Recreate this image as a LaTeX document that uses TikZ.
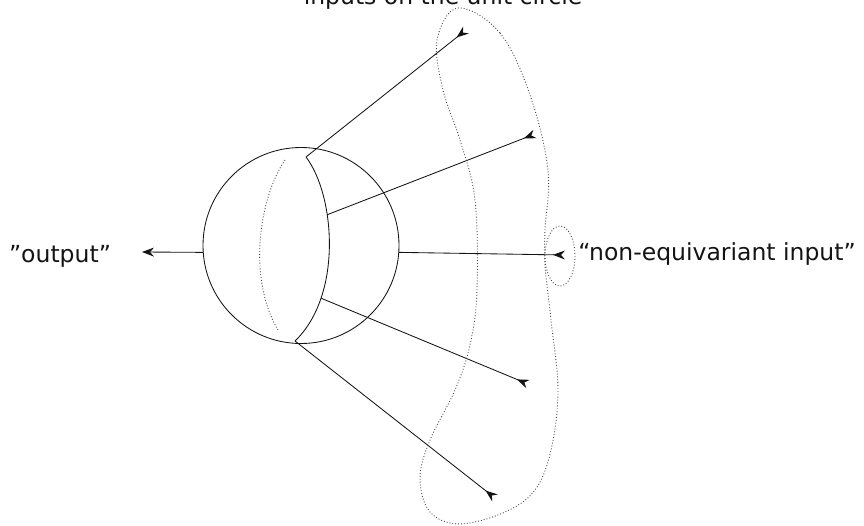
\documentclass[tikz,border=0pt]{standalone}
\usepackage{fontspec}
\setmainfont{DejaVu Sans}
\usetikzlibrary{arrows.meta}
\definecolor{inktext}{RGB}{20,20,20}
\definecolor{dotgray}{RGB}{70,70,70}

\begin{document}
\begin{tikzpicture}[x=1pt,y=-1pt,
  lbl/.style={font=\fontsize{23.5}{28}\selectfont,text=inktext,inner sep=0pt,anchor=base},
  wire/.style={line width=0.85pt,color=inktext},
  outarr/.style={wire,-{Stealth[length=12pt,width=9pt,inset=4pt]}},
  inarr/.style={wire,-{Stealth[length=12pt,width=9pt,inset=4pt,reversed]}},
  dots/.style={dotted,line width=0.9pt,color=dotgray}]
\useasboundingbox (0,0) rectangle (864,525);
\node[circle,draw=inktext,line width=0.85pt,minimum size=196pt,inner sep=0pt]
  (disc) at (301,245.5) {};
\node[lbl] (title) at (443,4) {inputs on the unit circle};
\node[lbl] (outlbl) at (60,262) {"output''};
\node[lbl] (nonlbl) at (717,260) {``non-equivariant input''};
% ends of the arrows
\coordinate (outtip) at (142,252);
\coordinate (in1) at (466,30);
\coordinate (in2) at (535,134);
\coordinate (in3) at (565,255);
\coordinate (in4) at (528,384);
\coordinate (in5) at (495,498);
% the cut through the disc
\coordinate (ctop) at (306,157);
\coordinate (cbot) at (295,341);
\draw[wire] (ctop) .. controls (335,195) and (343,295) ..
  coordinate[pos=0.35] (c2) coordinate[pos=0.75] (c4) (cbot);
\draw[dots] (285,160) .. controls (258,200) and (248,280) .. (278,330);
\draw[outarr] (disc.184) -- (outtip);
\draw[inarr] (ctop) -- (in1);
\draw[inarr] (c2) -- (in2);
\draw[inarr] (disc.-4) -- (in3);
\draw[inarr] (c4) -- (in4);
\draw[inarr] (cbot) -- (in5);
% the inputs on the unit circle
\draw[dots] plot[smooth cycle,tension=0.6] coordinates {
  (458,8) (500,33) (530,95) (548,170) (545,230) (545,265) (551,320)
  (558,390) (551,450) (535,490) (505,512) (460,524) (430,512) (420,478)
  (430,440) (455,390) (470,345) (477,290) (475,200) (460,140) (443,90)
  (437,40)};
\draw[dots] (560,256) ellipse [x radius=15,y radius=30];
\end{tikzpicture}
\end{document}
